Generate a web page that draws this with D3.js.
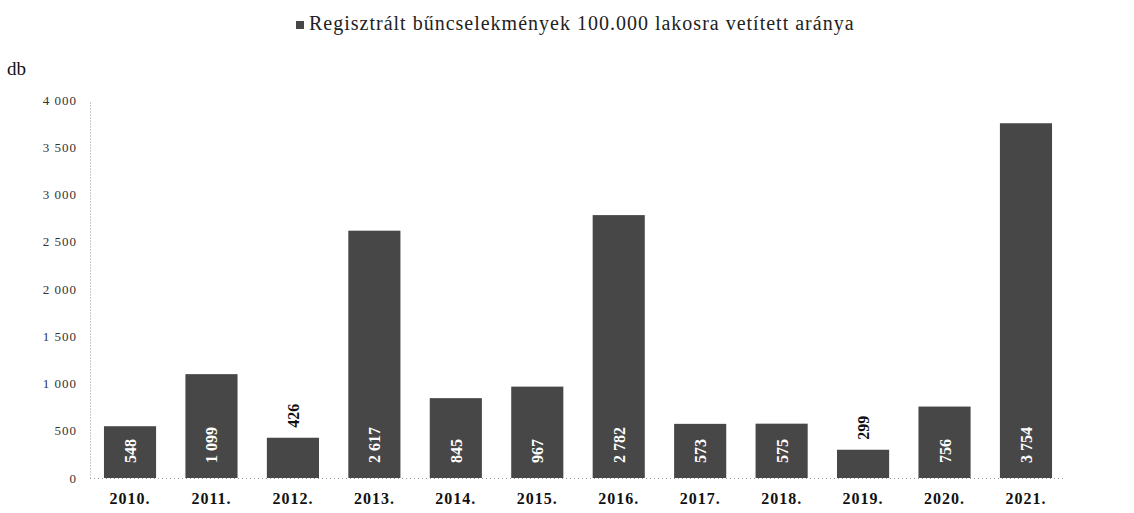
<!DOCTYPE html>
<html><head><meta charset="utf-8">
<script src="https://cdn.jsdelivr.net/npm/d3@7"></script>
<style>body{margin:0;background:#fff}svg{display:block}</style>
</head><body>
<svg id="c" width="1134" height="513"></svg>
<script>
const years = ["2010.","2011.","2012.","2013.","2014.","2015.","2016.","2017.","2018.","2019.","2020.","2021."];
const values = [548,1099,426,2617,845,967,2782,573,575,299,756,3754];
const yTicks = [0,500,1000,1500,2000,2500,3000,3500,4000];
const seriesName = "Regisztrált bűncselekmények 100.000 lakosra vetített aránya";
const unitLabel = "db";

const svg = d3.select("#c");
const serif = "'Liberation Serif','Times New Roman',serif";
const fmt = v => d3.format(",")(v).replace(/,/g, "\u00a0");

const x = d3.scaleBand().domain(years).range([89.3, 1066.7]).paddingInner(0.36).paddingOuter(0.18);
const y = d3.scaleLinear().domain([0, 4000]).range([478, 100]);

// y axis
const ya = svg.append("g").attr("transform", "translate(90,0)")
  .call(d3.axisLeft(y).tickValues(yTicks).tickSize(0).tickPadding(13).tickFormat(fmt));
ya.select(".domain").attr("stroke", "#999").attr("stroke-dasharray", "1,2");
ya.selectAll("text").attr("font-family", serif).attr("font-size", 13).attr("letter-spacing", 1).attr("fill", "#333");

// x axis
const xa = svg.append("g").attr("transform", "translate(0,478)")
  .call(d3.axisBottom(x).tickSize(0).tickPadding(15));
xa.select(".domain").attr("d", "M90,0.5H1066").attr("stroke", "#999").attr("stroke-dasharray", "1,3");
xa.selectAll("text").attr("font-family", serif).attr("font-size", 16).attr("letter-spacing", 1).attr("font-weight", "bold").attr("fill", "#111");

// bars
svg.append("g").selectAll("rect").data(values).join("rect")
  .attr("x", (d, i) => x(years[i]))
  .attr("width", x.bandwidth())
  .attr("y", d => y(d))
  .attr("height", d => y(0) - y(d))
  .attr("fill", "#474747");

// labels
svg.append("g").selectAll("text").data(values).join("text")
  .attr("transform", (d, i) => {
    const cx = x(years[i]) + x.bandwidth() / 2 + 6;
    const inside = (y(0) - y(d)) > 50;
    const ty = inside ? y(0) - 15 : y(d) - 10;
    return `translate(${cx},${ty}) rotate(-90)`;
  })
  .attr("font-family", serif).attr("font-size", 16).attr("font-weight", "bold")
  .attr("fill", d => (y(0) - y(d)) > 50 ? "#fff" : "#111")
  .text(d => fmt(d));

// legend / title
const lg = svg.append("g");
lg.append("rect").attr("x", 296).attr("y", 21).attr("width", 8).attr("height", 8).attr("fill", "#474747");
lg.append("text").attr("x", 309).attr("y", 30).attr("font-family", serif).attr("font-size", 20)
  .attr("letter-spacing", 1).attr("fill", "#222")
  .text(seriesName);

svg.append("text").attr("x", 7).attr("y", 75).attr("font-family", serif).attr("font-size", 19).attr("fill", "#111").text(unitLabel);
</script>
</body></html>
